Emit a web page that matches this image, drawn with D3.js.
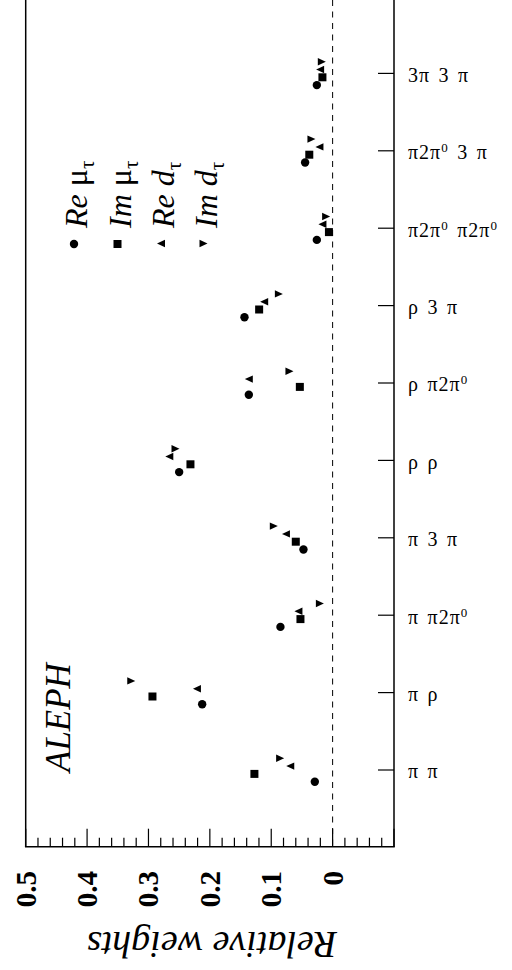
<!DOCTYPE html>
<html>
<head>
<meta charset="utf-8">
<script src="https://cdn.jsdelivr.net/npm/d3@7"></script>
<style>
  html, body { margin: 0; padding: 0; background: #fff; }
  svg { display: block; }
</style>
</head>
<body>
<div id="chart"></div>
<script>
// ---- data ----
const categories = ["π π", "π ρ", "π π2π^0", "π 3 π", "ρ ρ", "ρ π2π^0", "ρ 3 π", "π2π^0 π2π^0", "π2π^0 3 π", "3π 3 π"];
const reMu = [0.029, 0.2125, 0.085, 0.0475, 0.250, 0.1365, 0.1436, 0.0257, 0.0448, 0.0257];
const imMu = [0.1274, 0.2935, 0.0524, 0.060, 0.2316, 0.0534, 0.1197, 0.006, 0.038, 0.0166];
const reD  = [0.069, 0.221, 0.0557, 0.076, 0.266, 0.1365, 0.1115, 0.0166, 0.0215, 0.0203];
const imD  = [0.0855, 0.328, 0.0208, 0.0958, 0.256, 0.0703, 0.0876, 0.0106, 0.0345, 0.0176];
const seriesNames = ["Re μτ", "Im μτ", "Re dτ", "Im dτ"];
const xTickValues = [0.5, 0.4, 0.3, 0.2, 0.1, 0];
const xTickLabels = ["0.5", "0.4", "0.3", "0.2", "0.1", "0"];

const W = 512, H = 970;
const FONT = "Liberation Serif";
const svg = d3.select("#chart").append("svg").attr("width", W).attr("height", H)
  .attr("font-family", FONT);

const left = 25.7, right = 394, bottom = 846.7;
const x = d3.scaleLinear().domain([0.5, -0.1]).range([left, right]);
const y = d3.scalePoint().domain(categories).range([770, 73.4]);

// frame
const frame = svg.append("g").attr("stroke", "#000").attr("stroke-width", 1.5).attr("fill", "none");
frame.append("line").attr("x1", left).attr("x2", left).attr("y1", 0).attr("y2", bottom);
frame.append("line").attr("x1", right).attr("x2", right).attr("y1", 0).attr("y2", bottom);
frame.append("line").attr("x1", left - 0.75).attr("x2", right + 0.75).attr("y1", bottom).attr("y2", bottom);

// x ticks (major + minor)
const minor = d3.range(0, 31).map(i => 0.5 - i * 0.02);
svg.append("g").selectAll("line").data(minor).join("line")
  .attr("x1", d => x(d)).attr("x2", d => x(d))
  .attr("y1", bottom)
  .attr("y2", (d, i) => i % 5 === 0 ? bottom - 18 : bottom - 9)
  .attr("stroke", "#000").attr("stroke-width", 1.2);

// x tick labels
svg.append("g").selectAll("text").data(xTickValues).join("text")
  .attr("transform", d => `translate(${x(d) + 10},871) rotate(-90)`)
  .attr("text-anchor", "end")
  .attr("font-family", FONT).attr("font-weight", "bold").attr("font-size", 29)
  .text((d, i) => xTickLabels[i]);

// axis title
svg.append("text")
  .attr("transform", `translate(212,932) rotate(180)`)
  .attr("text-anchor", "middle")
  .attr("font-family", FONT).attr("font-style", "italic").attr("font-size", 38)
  .text("Relative weights");

// zero dashed line
svg.append("line")
  .attr("x1", x(0)).attr("x2", x(0)).attr("y1", 0).attr("y2", bottom)
  .attr("stroke", "#000").attr("stroke-width", 1).attr("stroke-dasharray", "6,5.5");

// category ticks
svg.append("g").selectAll("line").data(categories).join("line")
  .attr("x1", right - 16).attr("x2", right)
  .attr("y1", d => y(d)).attr("y2", d => y(d))
  .attr("stroke", "#000").attr("stroke-width", 1.2);

// category labels (with raised "0" superscripts)
const catLabels = svg.append("g").selectAll("text").data(categories).join("text")
  .attr("x", 408).attr("y", d => y(d) + 8.4)
  .attr("font-family", FONT).attr("font-size", 20)
  .attr("letter-spacing", 1).attr("word-spacing", 2.5);
catLabels.each(function(d) {
  const t = d3.select(this);
  const parts = d.split("^0");
  let raised = false;
  parts.forEach((p, i) => {
    if (p.length) {
      t.append("tspan").text(p).attr("dy", raised ? 7 : 0);
      raised = false;
    }
    if (i < parts.length - 1) {
      t.append("tspan").text("0").attr("font-size", 13).attr("dy", raised ? 0 : -7);
      raised = true;
    }
  });
});

// markers
const offsets = [11.7, 3.9, -3.9, -11.7];
const triLeft = "M-4,0L4,-3.7L4,3.7Z";
const triRight = "M4,0L-4,-3.7L-4,3.7Z";
const g = svg.append("g").attr("fill", "#000");
g.selectAll("circle.re").data(reMu).join("circle")
  .attr("cx", d => x(d)).attr("cy", (d, i) => y(categories[i]) + offsets[0]).attr("r", 4.2);
g.selectAll("rect.im").data(imMu).join("rect")
  .attr("x", d => x(d) - 4).attr("y", (d, i) => y(categories[i]) + offsets[1] - 4)
  .attr("width", 8).attr("height", 8);
g.selectAll("path.red").data(reD).join("path")
  .attr("d", triLeft)
  .attr("transform", (d, i) => `translate(${x(d)},${y(categories[i]) + offsets[2]})`);
g.selectAll("path.imd").data(imD).join("path")
  .attr("d", triRight)
  .attr("transform", (d, i) => `translate(${x(d)},${y(categories[i]) + offsets[3]})`);

// legend
const legX = [87, 130.5, 174, 217];
const legMarkerY = 244;
const lg = svg.append("g");
lg.append("circle").attr("cx", legX[0] - 13).attr("cy", legMarkerY).attr("r", 4.2);
lg.append("rect").attr("x", legX[1] - 13 - 4).attr("y", legMarkerY - 4).attr("width", 8).attr("height", 8);
lg.append("path").attr("d", triLeft).attr("transform", `translate(${legX[2] - 13},${legMarkerY - 0.5})`);
lg.append("path").attr("d", triRight).attr("transform", `translate(${legX[3] - 13.5},${legMarkerY - 0.5})`);
seriesNames.forEach((name, i) => {
  const [a, b] = name.split(" ");
  const t = lg.append("text")
    .attr("transform", `translate(${legX[i]},228) rotate(-90)`)
    .attr("font-family", FONT).attr("font-size", 32);
  t.append("tspan").attr("font-style", "italic").text(a + " ");
  const main = b.slice(0, 1), sub = b.slice(1);
  t.append("tspan").attr("font-style", main === "d" ? "italic" : "normal").text(main);
  t.append("tspan").attr("font-size", 21).attr("dy", 7).text(sub);
});

// ALEPH label
svg.append("text")
  .attr("transform", `translate(70,772) rotate(-90)`)
  .attr("font-family", FONT).attr("font-style", "italic").attr("font-size", 35)
  .text("ALEPH");
</script>
</body>
</html>
